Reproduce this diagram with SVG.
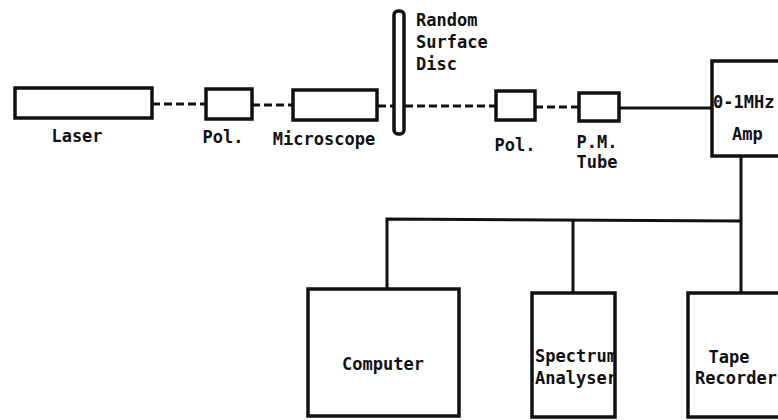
<svg xmlns="http://www.w3.org/2000/svg" width="778" height="420" viewBox="0 0 778 420">
<style>
.box{fill:#fff;stroke:#111;stroke-width:3.5}
.dash{stroke:#111;stroke-width:3;stroke-dasharray:8 4;fill:none}
.wire{stroke:#111;stroke-width:3;fill:none}
text{font-family:"DejaVu Sans Mono","Liberation Mono",monospace;font-weight:bold;font-size:17px;fill:#111}
.c{text-anchor:middle}
</style>
<defs>
<clipPath id="specClip"><rect x="534" y="295" width="80" height="120"/></clipPath>
</defs>
<rect width="778" height="420" fill="#fff"/>
<g id="connectors">
<line class="dash" x1="152" y1="104" x2="206" y2="104"/>
<line class="dash" x1="252" y1="105" x2="293" y2="105"/>
<line class="dash" x1="378" y1="106" x2="393" y2="106"/>
<line class="dash" x1="405" y1="106" x2="496" y2="106"/>
<line class="dash" x1="535" y1="107" x2="579" y2="107"/>
<line class="wire" x1="619" y1="108" x2="712" y2="108"/>
<line class="wire" x1="741" y1="156" x2="741" y2="293"/>
<polyline class="wire" points="387,289 387,219 741,221"/>
<line class="wire" x1="573" y1="220" x2="573" y2="293"/>
</g>
<g id="laser">
<rect class="box" x="15" y="88" width="137" height="30"/>
<text class="c" x="77" y="142">Laser</text>
</g>
<g id="pol1">
<rect class="box" x="206" y="89" width="46" height="30"/>
<text class="c" x="223" y="143">Pol.</text>
</g>
<g id="microscope">
<rect class="box" x="293" y="90" width="84" height="30"/>
<text class="c" x="324" y="145">Microscope</text>
</g>
<g id="disc">
<rect class="box" x="394" y="11" width="10" height="123" rx="4"/>
<text x="416" y="26">Random</text>
<text x="416" y="48">Surface</text>
<text x="416" y="70">Disc</text>
</g>
<g id="pol2">
<rect class="box" x="496" y="91" width="39" height="29"/>
<text class="c" x="515" y="151">Pol.</text>
</g>
<g id="pmtube">
<rect class="box" x="579" y="93" width="40" height="28"/>
<text class="c" x="597" y="148">P.M.</text>
<text class="c" x="597" y="168">Tube</text>
</g>
<g id="amp">
<rect class="box" x="712" y="61" width="90" height="95"/>
<text x="713" y="108">0-1MHz</text>
<text x="732" y="140">Amp</text>
</g>
<g id="computer">
<rect class="box" x="308" y="289" width="151" height="127"/>
<text class="c" x="383" y="370">Computer</text>
</g>
<g id="spectrum">
<rect class="box" x="532" y="293" width="83" height="124"/>
<g clip-path="url(#specClip)">
<text x="535" y="362">Spectrum</text>
<text x="535" y="384">Analyser</text>
</g>
</g>
<g id="tape">
<rect class="box" x="688" y="293" width="100" height="124"/>
<text class="c" x="729" y="363">Tape</text>
<text x="695" y="384">Recorder</text>
</g>
</svg>
